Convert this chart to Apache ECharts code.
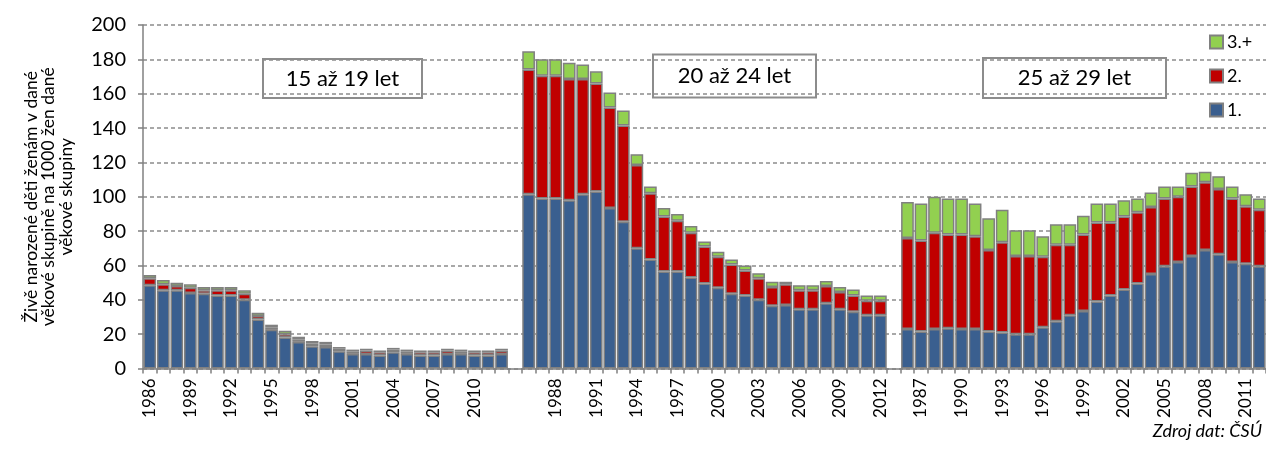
<!DOCTYPE html>
<html>
<head>
<meta charset="utf-8">
<script src="https://cdn.jsdelivr.net/npm/echarts@6/dist/echarts.min.js"></script>
<style>
html,body{margin:0;padding:0;background:#fff;}
#chart{width:1266px;height:461px;}
</style>
</head>
<body>
<div id="chart"></div>
<script>
// Years of each age group
var years = ['1986','1987','1988','1989','1990','1991','1992','1993','1994','1995','1996','1997','1998','1999',
             '2000','2001','2002','2003','2004','2005','2006','2007','2008','2009','2010','2011','2012'];
var groupNames = ['15 až 19 let', '20 až 24 let', '25 až 29 let'];
var seriesNames = ['1.', '2.', '3.+'];

// 15–19 let
var g1First  = [48.5,45.5,45.5,44,43.5,42.5,42.5,40,28.5,22.5,18,15.5,13,12.5,10,8.5,8.5,7.5,9.5,8.5,7.5,7.5,8.5,8.5,7.5,7.5,8.5];
var g1Second = [4,3.5,2.5,3,2,3,3,3.5,2,1.5,2,1.5,1.5,1.5,1.5,1.5,2,2,1.5,1.5,2,2,2,1.5,2,2,2];
var g1Third  = [2,2.5,2,2,2,2,2,2,2,1.5,2,1.5,1.5,1.5,1,1,1,1,1,1,1,1,1,1,1,1,1];

// 20–24 let
var g2First  = [101.5,99,99,98,101.5,103,93.5,85.5,70,63.5,56.5,56.5,53,49.5,47,43.5,42.5,40,36.5,37,34.5,34.5,38,34.5,33,31,31];
var g2Second = [72.6,71.5,71.5,70.5,67,63,58.5,56,48.5,38.5,32,29.5,26,21.5,18,17,14.5,12.5,11,12,11,11,10,10,9.5,8.5,8.5];
var g2Third  = [10.6,9.5,9.5,9.5,8.5,7,8.7,8.7,6.3,4,5,4,4,3,3,3,3,3,3,1.5,3,3,3,3,3.5,3,3];

// 25–29 let
var g3First  = [23,21.5,23,23.5,23,23,21.5,21,20,20,24,27.5,31,33.5,39,42.5,46,49.5,55,59.5,62,65.5,69,66.5,62,61,59.5];
var g3Second = [53,53,56,54.5,55,54,47.5,52.5,45.5,45.5,41,44.5,41,44.5,46,42.5,42.5,41.5,39,39.5,38,40.5,39.5,38,37,33.5,33];
var g3Third  = [21,21.5,21,21,21,19,18.5,19,15,15,12,12,12,11,11,11,9.5,8,8.5,7,6,8,6,7.5,7,7,6.5];

var yTicks = [0,20,40,60,80,100,120,140,160,180,200];

// Build a single category axis with one empty slot between groups
var categories = [].concat(years, [''], years, [''], years);
function joinGroups(a, b, c) { return [].concat(a, [null], b, [null], c); }
var first  = joinGroups(g1First, g2First, g3First);
var second = joinGroups(g1Second, g2Second, g3Second);
var third  = joinGroups(g1Third, g2Third, g3Third);

var FONT = 'Lato, "Open Sans", sans-serif';
var chart = echarts.init(document.getElementById('chart'), null, {renderer: 'canvas'});

function barSeries(name, data, color) {
  return {
    name: name, type: 'bar', stack: 'total', data: data,
    barCategoryGap: '6%',
    itemStyle: {color: color, borderColor: '#808080', borderWidth: 1.5},
    emphasis: {disabled: true}
  };
}

function box(cx, cy, w, h, text) {
  return {
    type: 'group', left: cx - w / 2, top: cy - h / 2,
    children: [
      {type: 'rect', shape: {x: 0, y: 0, width: w, height: h},
       style: {fill: '#fff', stroke: '#8c8c8c', lineWidth: 2}},
      {type: 'text', x: w / 2, y: h / 2,
       style: {text: text, font: '22px ' + FONT, fill: '#000', textAlign: 'center', textVerticalAlign: 'middle'}}
    ]
  };
}

chart.setOption({
  animation: false,
  backgroundColor: '#fff',
  grid: {left: 143, right: -7, top: 25, bottom: 92.5, containLabel: false},
  legend: {
    data: ['3.+', '2.', '1.'],
    orient: 'vertical',
    left: 1204, top: 28,
    itemWidth: 13, itemHeight: 13, itemGap: 16,
    icon: 'rect',
    textStyle: {fontFamily: FONT, fontSize: 18, color: '#000', lineHeight: 16, padding: [0, 0, 0, -1]}
  },
  xAxis: {
    type: 'category',
    data: categories,
    boundaryGap: true,
    axisLine: {show: true, lineStyle: {color: '#808080', width: 1.5}},
    axisTick: {show: true, interval: 0, length: 5, lineStyle: {color: '#808080', width: 1.5}},
    axisLabel: {
      interval: 2, rotate: 90, margin: 10, color: '#000',
      fontFamily: FONT, fontSize: 17
    }
  },
  yAxis: {
    type: 'value', min: 0, max: 200, interval: 20,
    name: 'Živě narozené děti ženám v dané\nvěkové skupině na 1000 žen dané\nvěkové skupiny',
    nameLocation: 'middle', nameRotate: 90, nameGap: 68,
    nameTextStyle: {fontFamily: FONT, fontSize: 17.5, color: '#000', lineHeight: 17.5, align: 'center'},
    axisLine: {show: true, lineStyle: {color: '#808080', width: 1.5}},
    axisTick: {show: true, length: 5, lineStyle: {color: '#808080', width: 1.5}},
    axisLabel: {fontFamily: FONT, fontSize: 20, color: '#000', margin: 17,
      formatter: function (v) { return yTicks.indexOf(v) >= 0 ? String(v) : ''; }},
    splitLine: {show: true, lineStyle: {color: '#8c8c8c', width: 1.5, type: [4, 3]}}
  },
  graphic: [
    box(341.5, 77.5, 159, 39, groupNames[0]),
    box(733.5, 75, 163, 43, groupNames[1]),
    box(1073.5, 77, 183, 40, groupNames[2]),
    {type: 'text', right: 4, top: 422,
     style: {text: 'Zdroj dat: ČSÚ', font: 'italic 18px ' + FONT, fill: '#000'}}
  ],
  series: [
    barSeries(seriesNames[0], first, '#3A5F8F'),
    barSeries(seriesNames[1], second, '#C00000'),
    barSeries(seriesNames[2], third, '#92D050')
  ]
});
</script>
</body>
</html>
